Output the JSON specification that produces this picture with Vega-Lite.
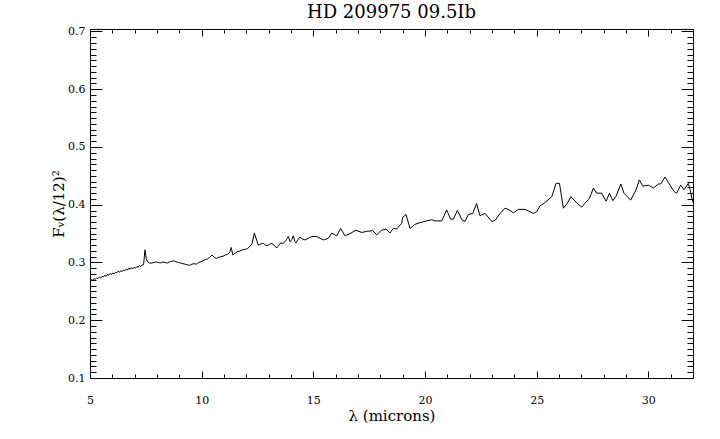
{
  "$schema": "https://vega.github.io/schema/vega-lite/v6.json",
  "width": 603,
  "height": 349,
  "autosize": {"type": "none"},
  "padding": {"left": 90, "top": 29, "right": 27, "bottom": 61},
  "background": "white",
  "title": {"text": "HD 209975 09.5Ib", "font": "DejaVu Serif", "fontSize": 18, "fontWeight": "normal", "color": "black", "anchor": "middle", "baseline": "bottom", "offset": -15},
  "config": {
    "view": {"stroke": null},
    "axis": {"grid": false, "minExtent": 0, "domainColor": "black", "tickColor": "black", "labelColor": "black", "titleColor": "black", "labelFont": "DejaVu Serif", "labelFontSize": 11, "titleFont": "DejaVu Serif", "titleFontWeight": "normal", "domainWidth": 1, "tickWidth": 1}
  },
  "data": {"values": [
    {"lam": 5.00, "f": 0.268}, {"lam": 5.06, "f": 0.270}, {"lam": 5.12, "f": 0.269}, {"lam": 5.18, "f": 0.272},
    {"lam": 5.24, "f": 0.271}, {"lam": 5.30, "f": 0.273}, {"lam": 5.36, "f": 0.272}, {"lam": 5.42, "f": 0.275},
    {"lam": 5.48, "f": 0.273}, {"lam": 5.54, "f": 0.276}, {"lam": 5.60, "f": 0.275}, {"lam": 5.66, "f": 0.278},
    {"lam": 5.72, "f": 0.276}, {"lam": 5.78, "f": 0.279}, {"lam": 5.84, "f": 0.278}, {"lam": 5.90, "f": 0.281},
    {"lam": 5.96, "f": 0.279}, {"lam": 6.02, "f": 0.282}, {"lam": 6.08, "f": 0.280}, {"lam": 6.14, "f": 0.283},
    {"lam": 6.20, "f": 0.282}, {"lam": 6.26, "f": 0.285}, {"lam": 6.32, "f": 0.283}, {"lam": 6.38, "f": 0.286},
    {"lam": 6.44, "f": 0.284}, {"lam": 6.50, "f": 0.287}, {"lam": 6.56, "f": 0.286}, {"lam": 6.62, "f": 0.288},
    {"lam": 6.68, "f": 0.287}, {"lam": 6.74, "f": 0.290}, {"lam": 6.80, "f": 0.288}, {"lam": 6.86, "f": 0.291},
    {"lam": 6.92, "f": 0.289}, {"lam": 6.98, "f": 0.292}, {"lam": 7.04, "f": 0.290}, {"lam": 7.10, "f": 0.293},
    {"lam": 7.16, "f": 0.292}, {"lam": 7.22, "f": 0.295}, {"lam": 7.28, "f": 0.293}, {"lam": 7.34, "f": 0.296},
    {"lam": 7.40, "f": 0.296}, {"lam": 7.46, "f": 0.322}, {"lam": 7.52, "f": 0.306}, {"lam": 7.58, "f": 0.301},
    {"lam": 7.66, "f": 0.299}, {"lam": 7.76, "f": 0.299}, {"lam": 7.86, "f": 0.300}, {"lam": 7.96, "f": 0.301},
    {"lam": 8.06, "f": 0.300}, {"lam": 8.16, "f": 0.299}, {"lam": 8.26, "f": 0.301}, {"lam": 8.36, "f": 0.300},
    {"lam": 8.46, "f": 0.299}, {"lam": 8.56, "f": 0.301}, {"lam": 8.66, "f": 0.302}, {"lam": 8.76, "f": 0.303},
    {"lam": 8.86, "f": 0.301}, {"lam": 8.96, "f": 0.300}, {"lam": 9.06, "f": 0.299}, {"lam": 9.16, "f": 0.298},
    {"lam": 9.26, "f": 0.297}, {"lam": 9.36, "f": 0.296}, {"lam": 9.46, "f": 0.295}, {"lam": 9.56, "f": 0.297},
    {"lam": 9.66, "f": 0.298}, {"lam": 9.76, "f": 0.297}, {"lam": 9.86, "f": 0.300}, {"lam": 9.96, "f": 0.301},
    {"lam": 10.06, "f": 0.303}, {"lam": 10.16, "f": 0.305}, {"lam": 10.26, "f": 0.306}, {"lam": 10.36, "f": 0.309},
    {"lam": 10.46, "f": 0.313}, {"lam": 10.56, "f": 0.309}, {"lam": 10.66, "f": 0.307}, {"lam": 10.76, "f": 0.309},
    {"lam": 10.86, "f": 0.310}, {"lam": 10.96, "f": 0.311}, {"lam": 11.06, "f": 0.313}, {"lam": 11.16, "f": 0.314},
    {"lam": 11.26, "f": 0.318}, {"lam": 11.32, "f": 0.326}, {"lam": 11.40, "f": 0.313}, {"lam": 11.50, "f": 0.316},
    {"lam": 11.60, "f": 0.319}, {"lam": 11.72, "f": 0.320}, {"lam": 11.84, "f": 0.322}, {"lam": 11.96, "f": 0.323},
    {"lam": 12.06, "f": 0.324}, {"lam": 12.16, "f": 0.328}, {"lam": 12.26, "f": 0.333}, {"lam": 12.36, "f": 0.351},
    {"lam": 12.46, "f": 0.339}, {"lam": 12.54, "f": 0.330}, {"lam": 12.64, "f": 0.332}, {"lam": 12.76, "f": 0.333},
    {"lam": 12.86, "f": 0.330}, {"lam": 12.96, "f": 0.329}, {"lam": 13.06, "f": 0.332}, {"lam": 13.14, "f": 0.333},
    {"lam": 13.24, "f": 0.330}, {"lam": 13.36, "f": 0.325}, {"lam": 13.46, "f": 0.330}, {"lam": 13.54, "f": 0.334},
    {"lam": 13.64, "f": 0.333}, {"lam": 13.73, "f": 0.336}, {"lam": 13.80, "f": 0.340}, {"lam": 13.88, "f": 0.345},
    {"lam": 13.96, "f": 0.336}, {"lam": 14.04, "f": 0.340}, {"lam": 14.10, "f": 0.346}, {"lam": 14.18, "f": 0.336},
    {"lam": 14.22, "f": 0.334}, {"lam": 14.30, "f": 0.339}, {"lam": 14.40, "f": 0.344}, {"lam": 14.50, "f": 0.341},
    {"lam": 14.63, "f": 0.339}, {"lam": 14.78, "f": 0.342}, {"lam": 14.93, "f": 0.345}, {"lam": 15.15, "f": 0.345},
    {"lam": 15.30, "f": 0.342}, {"lam": 15.45, "f": 0.339}, {"lam": 15.67, "f": 0.342}, {"lam": 15.82, "f": 0.351},
    {"lam": 16.05, "f": 0.346}, {"lam": 16.22, "f": 0.359}, {"lam": 16.42, "f": 0.346}, {"lam": 16.64, "f": 0.350},
    {"lam": 16.91, "f": 0.356}, {"lam": 17.17, "f": 0.352}, {"lam": 17.39, "f": 0.354}, {"lam": 17.66, "f": 0.355},
    {"lam": 17.84, "f": 0.348}, {"lam": 18.06, "f": 0.356}, {"lam": 18.26, "f": 0.358}, {"lam": 18.43, "f": 0.351},
    {"lam": 18.58, "f": 0.359}, {"lam": 18.73, "f": 0.358}, {"lam": 18.96, "f": 0.368}, {"lam": 19.00, "f": 0.378},
    {"lam": 19.15, "f": 0.383}, {"lam": 19.33, "f": 0.359}, {"lam": 19.55, "f": 0.366}, {"lam": 19.78, "f": 0.369},
    {"lam": 20.08, "f": 0.372}, {"lam": 20.30, "f": 0.374}, {"lam": 20.45, "f": 0.372}, {"lam": 20.75, "f": 0.372},
    {"lam": 20.97, "f": 0.391}, {"lam": 21.15, "f": 0.375}, {"lam": 21.27, "f": 0.375}, {"lam": 21.45, "f": 0.390},
    {"lam": 21.65, "f": 0.374}, {"lam": 21.79, "f": 0.371}, {"lam": 21.94, "f": 0.383}, {"lam": 22.14, "f": 0.385},
    {"lam": 22.31, "f": 0.402}, {"lam": 22.46, "f": 0.381}, {"lam": 22.69, "f": 0.385}, {"lam": 22.99, "f": 0.371},
    {"lam": 23.14, "f": 0.373}, {"lam": 23.36, "f": 0.385}, {"lam": 23.58, "f": 0.394}, {"lam": 23.73, "f": 0.392},
    {"lam": 23.96, "f": 0.386}, {"lam": 24.18, "f": 0.392}, {"lam": 24.48, "f": 0.392}, {"lam": 24.70, "f": 0.388},
    {"lam": 24.85, "f": 0.385}, {"lam": 25.00, "f": 0.388}, {"lam": 25.15, "f": 0.398}, {"lam": 25.38, "f": 0.404},
    {"lam": 25.68, "f": 0.414}, {"lam": 25.87, "f": 0.437}, {"lam": 26.02, "f": 0.437}, {"lam": 26.20, "f": 0.394},
    {"lam": 26.38, "f": 0.403}, {"lam": 26.53, "f": 0.414}, {"lam": 26.80, "f": 0.403}, {"lam": 27.02, "f": 0.396},
    {"lam": 27.17, "f": 0.403}, {"lam": 27.36, "f": 0.411}, {"lam": 27.54, "f": 0.429}, {"lam": 27.69, "f": 0.420},
    {"lam": 27.91, "f": 0.420}, {"lam": 28.11, "f": 0.406}, {"lam": 28.26, "f": 0.420}, {"lam": 28.41, "f": 0.407},
    {"lam": 28.56, "f": 0.415}, {"lam": 28.77, "f": 0.436}, {"lam": 28.91, "f": 0.420}, {"lam": 29.21, "f": 0.408},
    {"lam": 29.45, "f": 0.426}, {"lam": 29.60, "f": 0.443}, {"lam": 29.75, "f": 0.432}, {"lam": 30.00, "f": 0.434},
    {"lam": 30.23, "f": 0.429}, {"lam": 30.45, "f": 0.436}, {"lam": 30.56, "f": 0.436}, {"lam": 30.75, "f": 0.448},
    {"lam": 30.97, "f": 0.434}, {"lam": 31.15, "f": 0.423}, {"lam": 31.27, "f": 0.420}, {"lam": 31.45, "f": 0.434},
    {"lam": 31.60, "f": 0.426}, {"lam": 31.79, "f": 0.437}, {"lam": 31.87, "f": 0.426}, {"lam": 31.97, "f": 0.408},
    {"lam": 32.05, "f": 0.400}
  ]},
  "resolve": {"axis": {"x": "independent", "y": "independent"}},
  "layer": [
    {
      "mark": {"type": "line", "color": "black", "strokeWidth": 1, "clip": true},
      "encoding": {
        "x": {"field": "lam", "type": "quantitative", "scale": {"domain": [5, 32], "nice": false, "zero": false},
          "axis": {"orient": "bottom", "title": "λ (microns)", "titleFontSize": 15, "titlePadding": 0,
            "values": [5,6,7,8,9,10,11,12,13,14,15,16,17,18,19,20,21,22,23,24,25,26,27,28,29,30,31,32],
            "labelExpr": "datum.value % 5 === 0 ? datum.label : ''",
            "tickSize": {"condition": {"test": "datum.value % 5 === 0", "value": -7}, "value": -4},
            "labelPadding": 23, "labelFlush": false, "labelOverlap": false}},
        "y": {"field": "f", "type": "quantitative", "scale": {"domain": [0.1, 0.7043], "nice": false, "zero": false},
          "axis": {"orient": "left", "title": "Fᵥ(λ/12)²", "titleFontSize": 15, "titlePadding": 1,
            "values": [0.1,0.11,0.12,0.13,0.14,0.15,0.16,0.17,0.18,0.19,0.2,0.21,0.22,0.23,0.24,0.25,0.26,0.27,0.28,0.29,0.3,0.31,0.32,0.33,0.34,0.35,0.36,0.37,0.38,0.39,0.4,0.41,0.42,0.43,0.44,0.45,0.46,0.47,0.48,0.49,0.5,0.51,0.52,0.53,0.54,0.55,0.56,0.57,0.58,0.59,0.6,0.61,0.62,0.63,0.64,0.65,0.66,0.67,0.68,0.69,0.7],
            "labelExpr": "abs(datum.value * 10 - round(datum.value * 10)) < 0.001 ? format(datum.value, '.1f') : ''",
            "tickSize": {"condition": {"test": "abs(datum.value * 10 - round(datum.value * 10)) < 0.001", "value": -12}, "value": -6},
            "labelPadding": 17, "labelFlush": false, "labelOverlap": false}}
      }
    },
    {
      "mark": {"type": "line", "opacity": 0},
      "encoding": {
        "x": {"field": "lam", "type": "quantitative",
          "axis": {"orient": "top", "title": null, "labels": false, "minExtent": 0,
            "values": [5,6,7,8,9,10,11,12,13,14,15,16,17,18,19,20,21,22,23,24,25,26,27,28,29,30,31,32],
            "tickSize": {"condition": {"test": "datum.value % 5 === 0", "value": -7}, "value": -4}}},
        "y": {"field": "f", "type": "quantitative",
          "axis": {"orient": "right", "title": null, "labels": false, "minExtent": 0,
            "values": [0.1,0.11,0.12,0.13,0.14,0.15,0.16,0.17,0.18,0.19,0.2,0.21,0.22,0.23,0.24,0.25,0.26,0.27,0.28,0.29,0.3,0.31,0.32,0.33,0.34,0.35,0.36,0.37,0.38,0.39,0.4,0.41,0.42,0.43,0.44,0.45,0.46,0.47,0.48,0.49,0.5,0.51,0.52,0.53,0.54,0.55,0.56,0.57,0.58,0.59,0.6,0.61,0.62,0.63,0.64,0.65,0.66,0.67,0.68,0.69,0.7],
            "tickSize": {"condition": {"test": "abs(datum.value * 10 - round(datum.value * 10)) < 0.001", "value": -12}, "value": -6}}}
      }
    }
  ]
}
